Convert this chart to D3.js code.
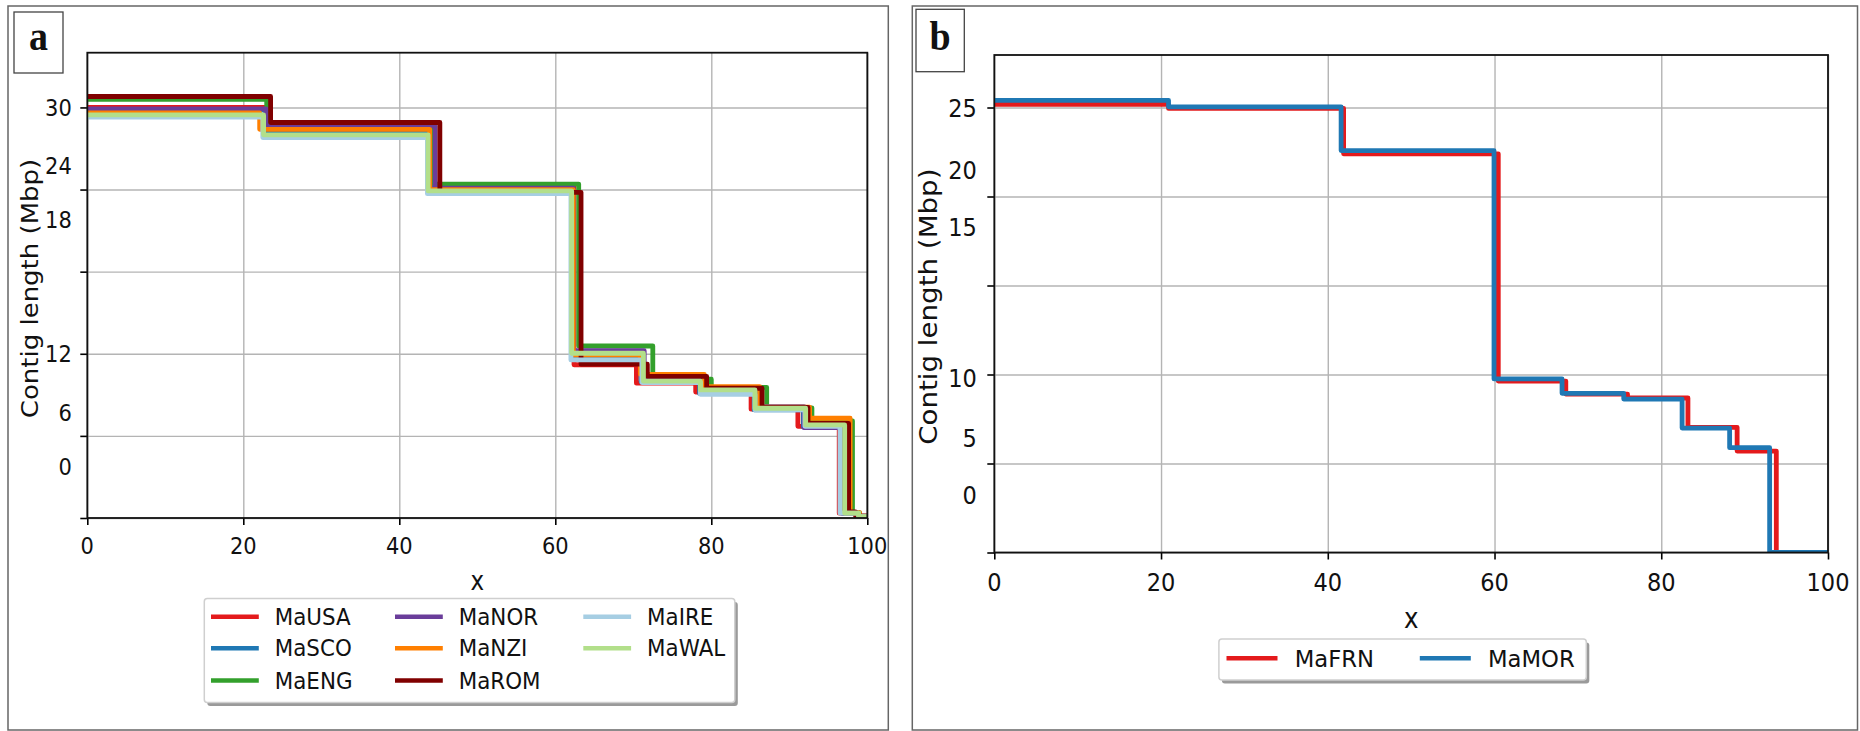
<!DOCTYPE html>
<html><head><meta charset="utf-8">
<script src="https://cdn.jsdelivr.net/npm/d3@7"></script>
<style>
body{margin:0;background:#fff}
svg{display:block}
text{font-family:"DejaVu Sans",sans-serif;fill:#111}
</style>
</head><body>
<svg id="c" width="1860" height="731"></svg>
<script>
// ---------------- DATA ----------------
const xTicks = [0, 20, 40, 60, 80, 100];
const yTicksA = [30, 24, 18, 12, 6, 0];
const yTicksB = [25, 20, 15, 10, 5, 0];
const xLabel = "x";
const yLabel = "Contig length (Mbp)";

const seriesA = ["MaUSA", "MaSCO", "MaENG", "MaNOR", "MaNZI", "MaROM", "MaIRE", "MaWAL"];
const MaUSA_x = [0, 22.9, 44.3, 62.4, 70.4, 78.0, 85.1, 91.1, 96.4, 98.9, 100];
const MaUSA_y = [30.0, 28.3, 24.2, 11.2, 9.85, 9.2, 7.95, 6.7, 0.35, 0.1, 0];
const MaSCO_x = [0, 22.9, 44.0, 62.2, 71.0, 78.5, 85.5, 91.8, 96.7, 98.9, 100];
const MaSCO_y = [29.8, 28.2, 23.9, 11.67, 9.95, 9.1, 7.9, 6.65, 0.35, 0.1, 0];
const MaENG_x = [0, 23.0, 44.5, 63.0, 72.5, 80.0, 87.1, 92.9, 98.1, 99.0, 100];
const MaENG_y = [30.6, 28.6, 24.4, 12.57, 10.14, 9.55, 8.05, 7.1, 0.4, 0.1, 0];
const MaNOR_x = [0, 22.9, 44.6, 62.3, 71.4, 78.8, 85.8, 91.9, 96.8, 98.9, 100];
const MaNOR_y = [29.9, 28.65, 24.1, 12.23, 10.2, 9.4, 8.14, 6.6, 0.35, 0.1, 0];
const MaNZI_x = [0, 22.1, 43.9, 62.3, 70.9, 79.1, 86.2, 92.6, 97.8, 99.0, 100];
const MaNZI_y = [29.6, 28.4, 24.0, 11.9, 10.5, 9.6, 8.1, 7.29, 0.4, 0.1, 0];
const MaROM_x = [0, 23.5, 45.2, 63.3, 71.8, 79.4, 86.5, 92.4, 97.6, 98.5, 100];
const MaROM_y = [30.8, 28.9, 23.8, 11.24, 10.35, 9.48, 8.09, 6.92, 0.45, 0.15, 0];
const MaIRE_x = [0, 22.5, 43.6, 62.0, 71.1, 78.6, 85.6, 92.0, 96.5, 98.9, 100];
const MaIRE_y = [29.3, 27.8, 23.7, 11.55, 9.9, 9.04, 7.9, 6.7, 0.35, 0.1, 0];
const MaWAL_x = [0, 22.6, 43.7, 62.1, 71.3, 78.6, 85.6, 92.1, 97.1, 98.9, 100];
const MaWAL_y = [29.45, 28.0, 23.9, 12.04, 10.0, 9.36, 8.02, 6.8, 0.35, 0.1, 0];

const seriesB = ["MaFRN", "MaMOR"];
const MaFRN_x = [0, 20.9, 41.9, 60.45, 68.55, 75.95, 83.2, 89.1, 93.8, 100];
const MaFRN_y = [25.18, 24.95, 22.4, 9.63, 8.9, 8.68, 7.03, 5.70, 0, 0];
const MaMOR_x = [0, 20.9, 41.6, 59.94, 68.1, 75.5, 82.5, 88.2, 93.0, 100];
const MaMOR_y = [25.4, 25.04, 22.58, 9.75, 8.94, 8.62, 6.99, 5.89, 0, 0];

// ---------------- STYLE / LAYOUT ----------------
const colorsA = ["#e41a1c", "#1f78b4", "#33a02c", "#6a3d9a", "#ff7f00", "#800000", "#a6cee3", "#b2df8a"];
const colorsB = ["#e41a1c", "#1f78b4"];
const dataA = [[MaUSA_x, MaUSA_y], [MaSCO_x, MaSCO_y], [MaENG_x, MaENG_y], [MaNOR_x, MaNOR_y],
               [MaNZI_x, MaNZI_y], [MaROM_x, MaROM_y], [MaIRE_x, MaIRE_y], [MaWAL_x, MaWAL_y]];
const dataB = [[MaFRN_x, MaFRN_y], [MaMOR_x, MaMOR_y]];

const STRETCH = 1.13;
const svg = d3.select("#c");
svg.append("rect").attr("width", 1860).attr("height", 731).attr("fill", "#fff");

function panel(cfg) {
  const g = svg.append("g");
  // outer border
  g.append("rect").attr("x", cfg.border[0]).attr("y", cfg.border[1])
    .attr("width", cfg.border[2] - cfg.border[0]).attr("height", cfg.border[3] - cfg.border[1])
    .attr("fill", "none").attr("stroke", "#666").attr("stroke-width", 1.5);
  // panel letter box
  g.append("rect").attr("x", cfg.letterBox[0]).attr("y", cfg.letterBox[1])
    .attr("width", cfg.letterBox[2] - cfg.letterBox[0]).attr("height", cfg.letterBox[3] - cfg.letterBox[1])
    .attr("fill", "#fff").attr("stroke", "#444").attr("stroke-width", 1.3);
  g.append("text").text(cfg.letter)
    .attr("transform", `translate(${(cfg.letterBox[0] + cfg.letterBox[2]) / 2},${cfg.letterBaseline}) scale(1,1.1)`)
    .attr("text-anchor", "middle")
    .style("font-family", "'Liberation Serif', 'Times New Roman', serif")
    .style("font-weight", "bold").style("font-size", cfg.letterSize + "px");

  const x = d3.scaleLinear().domain([0, 100]).range([cfg.left, cfg.right]);
  const y = d3.scaleLinear().domain([0, cfg.ymax]).range([cfg.bottom, cfg.top]);
  const W = cfg.right - cfg.left, H = cfg.bottom - cfg.top;

  // grid
  g.append("g").attr("transform", `translate(0,${cfg.bottom})`)
    .call(d3.axisBottom(x).tickValues(xTicks).tickSize(-H).tickFormat(""))
    .call(s => s.select(".domain").remove())
    .call(s => s.selectAll("line").attr("stroke", "#b4b4b4").attr("stroke-width", 1.4));
  g.append("g").attr("transform", `translate(${cfg.left},0)`)
    .call(d3.axisLeft(y).tickValues(cfg.yTicks).tickSize(-W).tickFormat(""))
    .call(s => s.select(".domain").remove())
    .call(s => s.selectAll("line").attr("stroke", "#b4b4b4").attr("stroke-width", 1.4));

  // lines
  const clipId = "clip" + cfg.letter;
  svg.append("clipPath").attr("id", clipId).append("rect")
    .attr("x", cfg.left).attr("y", cfg.top).attr("width", W).attr("height", H);
  const line = d3.line().x(d => x(d[0])).y(d => y(d[1])).curve(d3.curveStepAfter);
  const lg = g.append("g").attr("clip-path", `url(#${clipId})`);
  cfg.data.forEach((s, i) => {
    const pts = s[0].map((xv, j) => [xv, s[1][j]]);
    lg.append("path").attr("d", line(pts)).attr("fill", "none")
      .attr("stroke", cfg.colors[i]).attr("stroke-width", cfg.lw)
      .attr("stroke-linejoin", "round");
  });

  // ticks
  g.append("g").attr("transform", `translate(0,${cfg.bottom})`)
    .call(d3.axisBottom(x).tickValues(xTicks).tickSize(7).tickSizeOuter(0).tickFormat(""))
    .call(s => s.select(".domain").remove())
    .call(s => s.selectAll("line").attr("stroke", "#000").attr("stroke-width", 1.6));
  g.append("g").attr("transform", `translate(${cfg.left},0)`)
    .call(d3.axisLeft(y).tickValues(cfg.yTicks).tickSize(7).tickSizeOuter(0).tickFormat(""))
    .call(s => s.select(".domain").remove())
    .call(s => s.selectAll("line").attr("stroke", "#000").attr("stroke-width", 1.6));

  // frame
  g.append("rect").attr("x", cfg.left).attr("y", cfg.top).attr("width", W).attr("height", H)
    .attr("fill", "none").attr("stroke", "#111").attr("stroke-width", 1.8);

  // tick labels
  g.selectAll("text.xt").data(xTicks).join("text").attr("class", "xt")
    .attr("transform", d => `translate(${x(d)},${cfg.xLabelY}) scale(1,${STRETCH})`)
    .attr("text-anchor", "middle").attr("dy", "0.36em")
    .style("font-size", cfg.tickSize + "px").text(d => d);
  g.selectAll("text.yt").data(cfg.yTicks).join("text").attr("class", "yt")
    .attr("transform", (d, i) => `translate(${cfg.left - cfg.yLabelGap},${y(d) + cfg.yLabelShift[i]}) scale(1,${STRETCH})`)
    .attr("text-anchor", "end").attr("dy", "0.36em")
    .style("font-size", cfg.tickSize + "px").text(d => d);

  // axis titles
  g.append("text").text(xLabel)
    .attr("transform", `translate(${(cfg.left + cfg.right) / 2},${cfg.xTitleY}) scale(1,${STRETCH})`)
    .attr("text-anchor", "middle").attr("dy", "0.3em")
    .style("font-size", cfg.titleSize + "px");
  g.append("text").text(yLabel)
    .attr("transform", `translate(${cfg.yTitleX},${cfg.yTitleY}) rotate(-90) scale(${STRETCH},1)`)
    .attr("text-anchor", "middle")
    .style("font-size", cfg.titleSize + "px");

  // legend
  const L = cfg.legend;
  g.append("rect").attr("x", L.box[0] + 3).attr("y", L.box[1] + 3.5)
    .attr("width", L.box[2] - L.box[0]).attr("height", L.box[3] - L.box[1])
    .attr("rx", 3).attr("fill", "#9a9a9a");
  g.append("rect").attr("x", L.box[0]).attr("y", L.box[1])
    .attr("width", L.box[2] - L.box[0]).attr("height", L.box[3] - L.box[1])
    .attr("rx", 3).attr("fill", "#fff").attr("stroke", "#cfcfcf").attr("stroke-width", 1.5);
  cfg.names.forEach((nm, i) => {
    const col = Math.floor(i / L.rows), row = i % L.rows;
    const sx = L.box[0] + L.colX[col];
    const sy = L.rowY[row];
    g.append("line").attr("x1", sx).attr("x2", sx + L.swatch).attr("y1", sy).attr("y2", sy)
      .attr("stroke", cfg.colors[i]).attr("stroke-width", 4.6);
    g.append("text").text(nm)
      .attr("transform", `translate(${sx + L.textGap},${sy}) scale(1,1.05)`)
      .attr("dy", "0.36em")
      .style("font-size", L.size + "px");
  });
}

panel({
  letter: "a", border: [8, 6, 888.3, 730], letterBox: [14, 12, 63, 73], letterBaseline: 50, letterSize: 38,
  left: 87.3, right: 867.3, top: 52.7, bottom: 518, ymax: 34,
  yTicks: yTicksA, yLabelShift: [0, -24.3, -52, 0, -23.3, -52], yLabelGap: 15.5,
  xLabelY: 545, tickSize: 21, titleSize: 23, xTitleY: 582, yTitleX: 37.5, yTitleY: 288.5,
  data: dataA, colors: colorsA, names: seriesA, lw: 4.8,
  legend: { box: [204.3, 598.5, 734.8, 702.5], rows: 3, rowY: [616.7, 648.3, 680.5],
            colX: [6.7, 190.7, 379], swatch: 47.8, textGap: 63.8, size: 21.4 }
});

panel({
  letter: "b", border: [912.3, 6, 1857.5, 730], letterBox: [916, 9.3, 964.3, 71.7], letterBaseline: 50, letterSize: 38,
  left: 994.3, right: 1828, top: 55, bottom: 552.5, ymax: 27.95,
  yTicks: yTicksB, yLabelShift: [0, -26.5, -58.8, 3.5, -25.8, -57.5], yLabelGap: 17.5,
  xLabelY: 581.8, tickSize: 22.5, titleSize: 24.5, xTitleY: 620, yTitleX: 937.4, yTitleY: 306.7,
  data: dataB, colors: colorsB, names: seriesB, lw: 4.8,
  legend: { box: [1218.9, 639, 1586.3, 680], rows: 1, rowY: [658.3],
            colX: [7.6, 200.9], swatch: 51, textGap: 68.2, size: 22.7 }
});
</script>
</body></html>
